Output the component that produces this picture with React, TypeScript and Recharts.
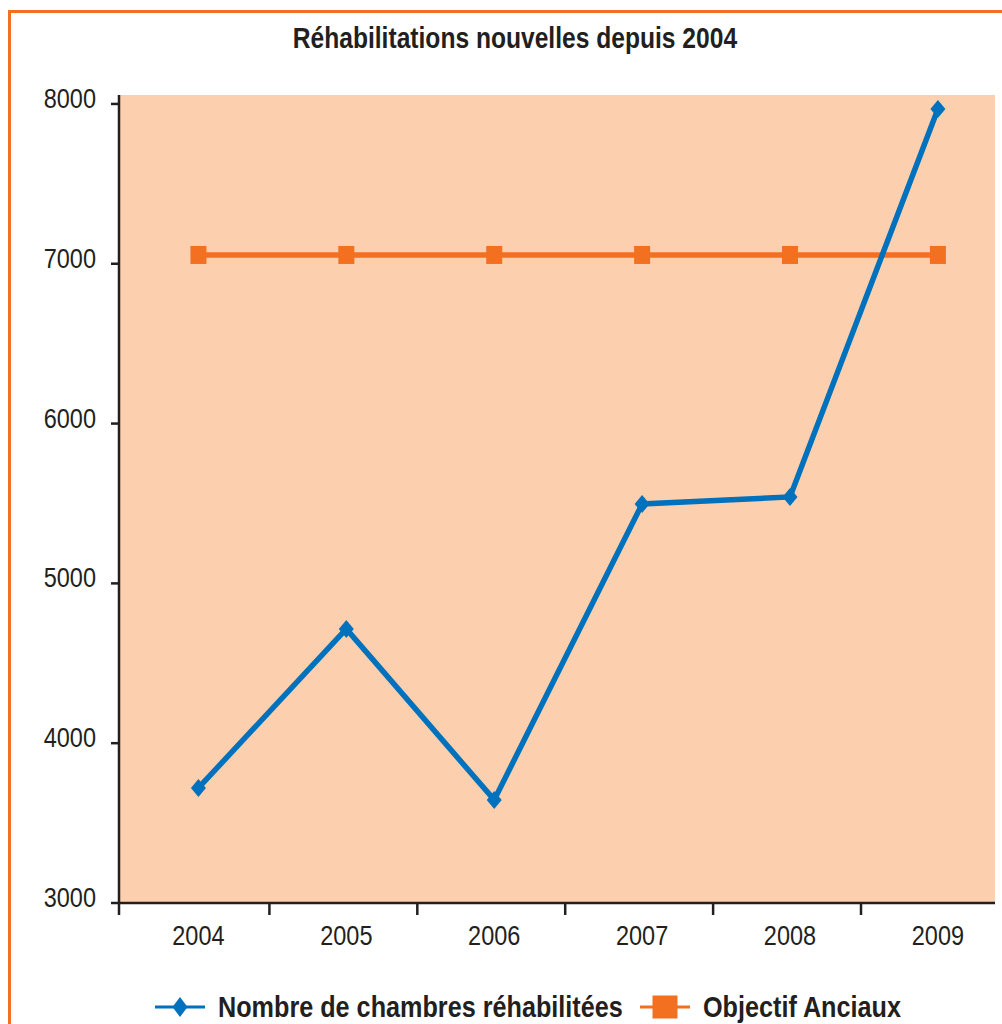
import { LineChart, Line, XAxis, YAxis, CartesianGrid, Legend } from 'recharts';

// values
const years = ['2004', '2005', '2006', '2007', '2008', '2009'];
const chambres = [3720, 4715, 3645, 5497, 5541, 7969];
const objectif = [7055, 7055, 7055, 7055, 7055, 7055];
const yTicks = [3000, 4000, 5000, 6000, 7000, 8000];
const xDividers = [-0.537, 0.48, 1.48, 2.48, 3.48, 4.48];

const BLUE = '#0071BC';
const ORANGE = '#F37021';
const PEACH = '#FCD0AF';
const INK = '#231F20';
// no narrow face installed: squeeze Liberation Sans horizontally instead
const FONT = "'Liberation Sans', Arial, sans-serif";
const SQUEEZE = 0.82;

const rows = years.map((y, i) => ({ i, year: y, chambres: chambres[i], objectif: objectif[i] }));

function Diamond(props: any) {
  const { cx, cy } = props;
  if (cx == null || cy == null) return null;
  return <polygon points={`${cx},${cy - 9} ${cx + 7.5},${cy} ${cx},${cy + 9} ${cx - 7.5},${cy}`} fill={BLUE} />;
}

function Square(props: any) {
  const { cx, cy } = props;
  if (cx == null || cy == null) return null;
  return <rect x={cx - 8} y={cy - 9} width={16} height={18} fill={ORANGE} />;
}

function YTick({ x, y, payload }: any) {
  return (
    <text transform={`translate(${x},${y + 4}) scale(0.84,1)`} textAnchor="end" fontFamily={FONT} fontSize={28} fill={INK}>
      {payload.value}
    </text>
  );
}

function XTick({ x, y, payload }: any) {
  const v = payload.value;
  if (!Number.isInteger(v)) {
    return <line x1={x} y1={y} x2={x} y2={y + 12} stroke={INK} strokeWidth={2.5} />;
  }
  return (
    <text transform={`translate(${x},${y + 42}) scale(0.84,1)`} textAnchor="middle" fontFamily={FONT} fontSize={28} fill={INK}>
      {years[v]}
    </text>
  );
}

const legendSlots: Record<string, number> = { chambres: 155, objectif: 640 };

function LegendBar({ payload }: any) {
  return (
    <div style={{ position: 'relative', width: 1002, height: 39, fontFamily: FONT, fontWeight: 700, fontSize: 30, color: INK }}>
      {(payload ?? []).map((p: any) => (
        <div key={p.dataKey} style={{ position: 'absolute', left: legendSlots[p.dataKey], top: 0, height: 39, display: 'flex', alignItems: 'center', whiteSpace: 'nowrap' }}>
          <svg width={50} height={26} style={{ display: 'block' }}>
            <line x1={0} y1={13} x2={50} y2={13} stroke={p.color} strokeWidth={3} />
            {p.dataKey === 'chambres'
              ? <polygon points="25,3 32.5,13 25,23 17.5,13" fill={p.color} />
              : <rect x={12.5} y={1.5} width={25} height={23} fill={p.color} />}
          </svg>
          <span style={{ marginLeft: 13, lineHeight: '39px', display: 'inline-block', transform: 'scaleX(0.84)', transformOrigin: 'left center' }}>{p.value}</span>
        </div>
      ))}
    </div>
  );
}

export default function App() {
  return (
    <div style={{ position: 'fixed', left: 0, top: 0, width: 1002, height: 1024, overflow: 'hidden', background: '#fff' }}>
      <div style={{ position: 'absolute', left: 8, top: 10, width: 1100, height: 1100, borderLeft: `3px solid ${ORANGE}`, borderTop: `3px solid ${ORANGE}` }} />
      <div style={{ position: 'absolute', left: 0, top: 22, width: 1030, textAlign: 'center', fontFamily: FONT, fontWeight: 700, fontSize: 30, lineHeight: '32px', color: INK, whiteSpace: 'nowrap' }}>
        <span style={{ display: 'inline-block', transform: `scaleX(${SQUEEZE})` }}>Réhabilitations nouvelles depuis 2004</span>
      </div>
      <div style={{ position: 'absolute', left: 0, top: 0 }}>
        <LineChart width={1002} height={1024} data={rows} margin={{ top: 95, right: 7, left: 0, bottom: 0 }}>
          <CartesianGrid fill={PEACH} horizontal={false} vertical={false} stroke="none" />
          <XAxis
            dataKey="i"
            type="number"
            domain={[-0.537, 5.386]}
            ticks={[...xDividers, 0, 1, 2, 3, 4, 5]}
            interval={0}
            height={121}
            tickLine={false}
            tickSize={0}
            tickMargin={0}
            tick={<XTick />}
            axisLine={{ stroke: INK, strokeWidth: 2.5 }}
          />
          <YAxis
            type="number"
            domain={[3000, 8056]}
            ticks={yTicks}
            interval={0}
            width={119}
            tickSize={8}
            tickMargin={15}
            tick={<YTick />}
            tickLine={{ stroke: INK, strokeWidth: 2.5 }}
            axisLine={{ stroke: INK, strokeWidth: 2.5 }}
          />
          <Line dataKey="objectif" name="Objectif Anciaux" stroke={ORANGE} strokeWidth={5.5} dot={<Square />} activeDot={false} isAnimationActive={false} />
          <Line dataKey="chambres" name="Nombre de chambres réhabilitées" stroke={BLUE} strokeWidth={5.5} dot={<Diamond />} activeDot={false} isAnimationActive={false} />
          <Legend
            layout="vertical"
            align="center"
            verticalAlign="middle"
            wrapperStyle={{ left: 0, top: 987, width: 1002, height: 39 }}
            content={<LegendBar />}
          />
        </LineChart>
      </div>
    </div>
  );
}
